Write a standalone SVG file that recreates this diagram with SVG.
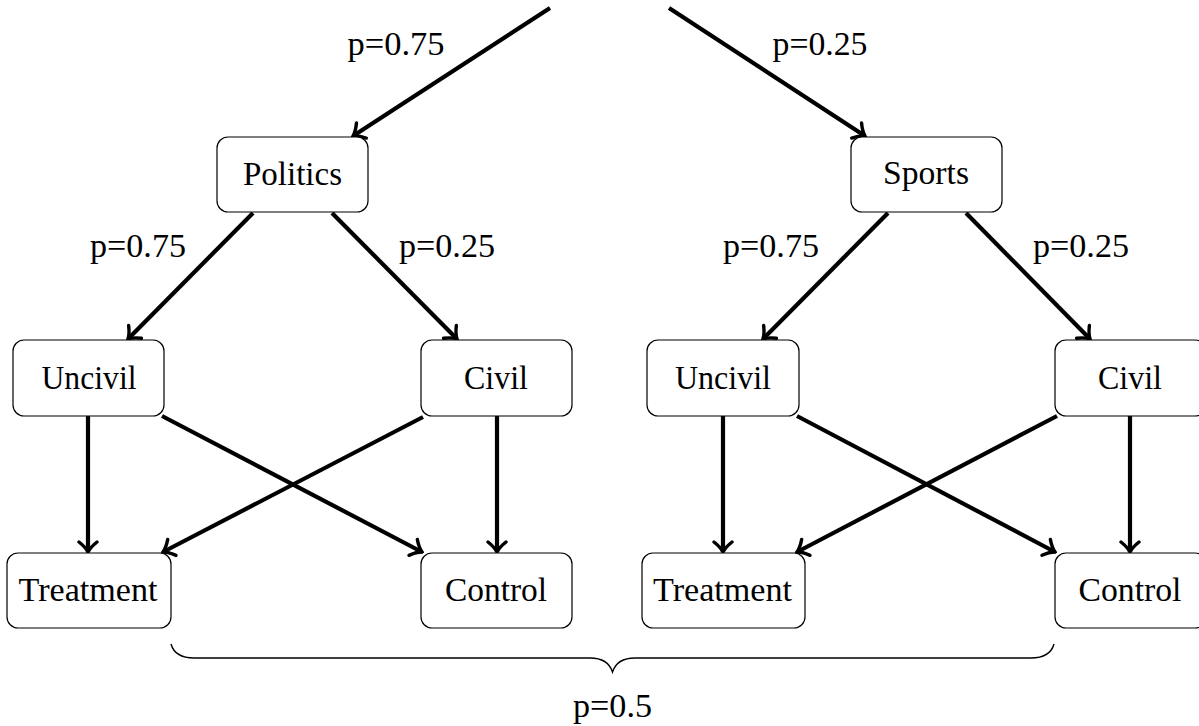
<svg xmlns="http://www.w3.org/2000/svg" width="1199" height="726" viewBox="0 0 1199 726">
<style>
.box{fill:#fff;stroke:#000;stroke-width:1.2}
.t{font-family:"Liberation Serif","Times New Roman",serif;font-size:34px;fill:#000;text-anchor:middle}
.e{fill:none;stroke:#000;stroke-width:4.2;marker-end:url(#ah)}
.brace{fill:none;stroke:#000;stroke-width:1.4}
</style>
<defs>
<marker id="ah" viewBox="-13 -12 15 24" refX="0" refY="0" markerWidth="15" markerHeight="24" markerUnits="userSpaceOnUse" orient="auto">
<path d="M -10 -9 C -6 -4 -2 -1 0 0 C -2 1 -6 4 -10 9" fill="none" stroke="#000" stroke-width="3.4" stroke-linecap="round"/>
</marker>
</defs>
<rect width="1199" height="726" fill="#fff"/>
<g id="connectors">
<line class="e" x1="550" y1="8" x2="353" y2="136"/>
<line class="e" x1="669" y1="8" x2="865" y2="136"/>
<line class="e" x1="253" y1="213" x2="128" y2="339"/>
<line class="e" x1="332" y1="213" x2="457" y2="339"/>
<line class="e" x1="888" y1="213" x2="763" y2="339"/>
<line class="e" x1="966" y1="213" x2="1090" y2="339"/>
<line class="e" x1="88" y1="416" x2="88" y2="552"/>
<line class="e" x1="162" y1="416" x2="422" y2="552"/>
<line class="e" x1="423" y1="417" x2="163" y2="552"/>
<line class="e" x1="497" y1="416" x2="497" y2="552"/>
<line class="e" x1="723" y1="416" x2="723" y2="552"/>
<line class="e" x1="797" y1="416" x2="1055" y2="552"/>
<line class="e" x1="1057" y1="416" x2="797" y2="552"/>
<line class="e" x1="1130" y1="416" x2="1130" y2="552"/>
</g>
<g id="edge-labels">
<text class="t" x="396" y="55" textLength="97" lengthAdjust="spacingAndGlyphs">p=0.75</text>
<text class="t" x="820" y="55" textLength="95" lengthAdjust="spacingAndGlyphs">p=0.25</text>
<text class="t" x="138" y="257" textLength="96" lengthAdjust="spacingAndGlyphs">p=0.75</text>
<text class="t" x="447" y="257" textLength="96" lengthAdjust="spacingAndGlyphs">p=0.25</text>
<text class="t" x="771" y="257" textLength="96" lengthAdjust="spacingAndGlyphs">p=0.75</text>
<text class="t" x="1081" y="257" textLength="96" lengthAdjust="spacingAndGlyphs">p=0.25</text>
</g>
<g id="politics"><rect class="box" x="217" y="137" width="151" height="75" rx="11"/><text class="t" x="292.5" y="185" textLength="99" lengthAdjust="spacingAndGlyphs">Politics</text></g>
<g id="sports"><rect class="box" x="851" y="137" width="151" height="75" rx="11"/><text class="t" x="926" y="184" textLength="86" lengthAdjust="spacingAndGlyphs">Sports</text></g>
<g id="uncivil-left"><rect class="box" x="13" y="340" width="151" height="76" rx="11"/><text class="t" x="89" y="389" textLength="95" lengthAdjust="spacingAndGlyphs">Uncivil</text></g>
<g id="civil-left"><rect class="box" x="421" y="340" width="151" height="76" rx="11"/><text class="t" x="496" y="389" textLength="64" lengthAdjust="spacingAndGlyphs">Civil</text></g>
<g id="treatment-left"><rect class="box" x="7" y="553" width="164" height="75" rx="11"/><text class="t" x="88" y="601" textLength="139" lengthAdjust="spacingAndGlyphs">Treatment</text></g>
<g id="control-left"><rect class="box" x="421" y="553" width="151" height="75" rx="11"/><text class="t" x="496" y="601" textLength="102" lengthAdjust="spacingAndGlyphs">Control</text></g>
<g id="uncivil-right"><rect class="box" x="647" y="340" width="152" height="76" rx="11"/><text class="t" x="723" y="389" textLength="96" lengthAdjust="spacingAndGlyphs">Uncivil</text></g>
<g id="civil-right"><rect class="box" x="1055" y="340" width="151" height="76" rx="11"/><text class="t" x="1130" y="389" textLength="64" lengthAdjust="spacingAndGlyphs">Civil</text></g>
<g id="treatment-right"><rect class="box" x="642" y="553" width="163" height="75" rx="11"/><text class="t" x="722.5" y="601" textLength="139" lengthAdjust="spacingAndGlyphs">Treatment</text></g>
<g id="control-right"><rect class="box" x="1055" y="553" width="151" height="75" rx="11"/><text class="t" x="1130" y="601" textLength="103" lengthAdjust="spacingAndGlyphs">Control</text></g>
<g id="brace">
<path class="brace" d="M171,644 Q175,658 194,658 L590,658 Q608,658 612.5,672 Q617,658 635,658 L1031,658 Q1050,658 1054,644"/>
<text class="t" x="612.5" y="717" textLength="79" lengthAdjust="spacingAndGlyphs">p=0.5</text>
</g>
</svg>
